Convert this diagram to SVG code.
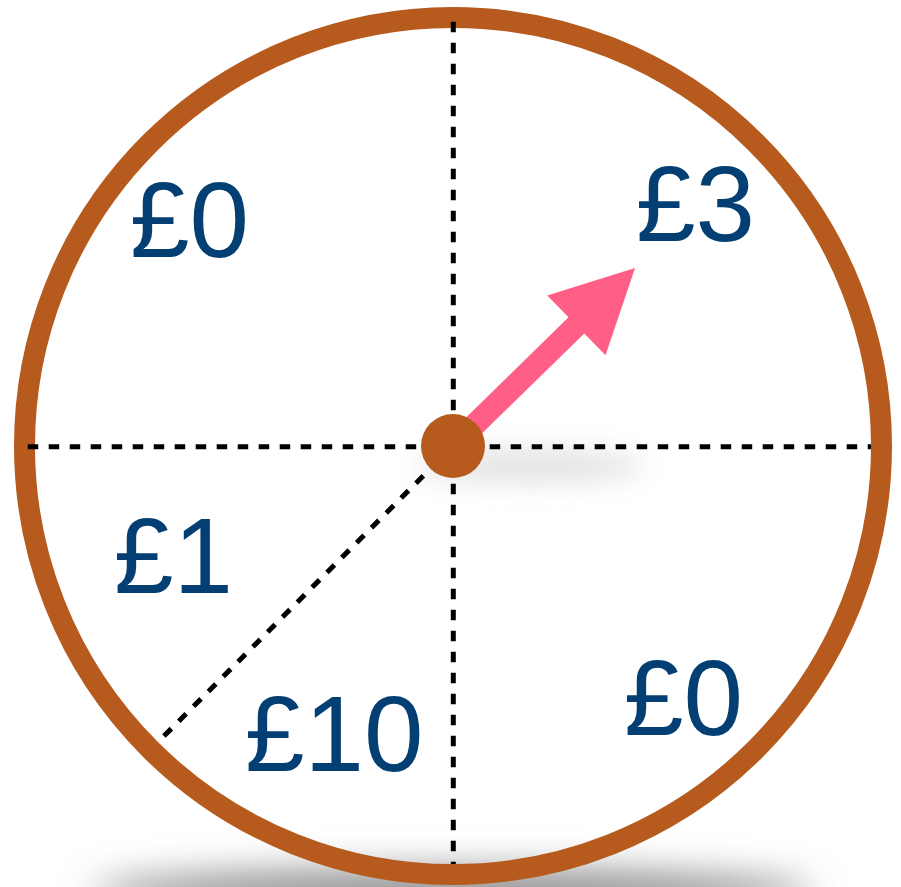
<svg xmlns="http://www.w3.org/2000/svg" width="901" height="887" viewBox="0 0 901 887">
  <defs>
    <style>
      .lbl { font-family: "Liberation Sans", Arial, sans-serif; font-size: 107px; fill: #033F72; }
      .dash { stroke: #000; stroke-width: 5; stroke-dasharray: 10.5 10.5; fill: none; }
    </style>
    <filter id="blurBig" x="-30%" y="-300%" width="160%" height="700%">
      <feGaussianBlur stdDeviation="18"/>
    </filter>
    <filter id="blurSmall" x="-60%" y="-300%" width="220%" height="700%">
      <feGaussianBlur stdDeviation="14"/>
    </filter>
  </defs>
  <rect width="901" height="887" fill="#fff"/>
  <g id="shadows">
    <ellipse cx="453" cy="892" rx="360" ry="22" fill="#8a8a8a" filter="url(#blurBig)"/>
    <ellipse cx="530" cy="466" rx="115" ry="16" fill="#d4d4d4" opacity="0.7" filter="url(#blurSmall)"/>
  </g>
  <g id="wheel">
    <circle cx="453" cy="446" r="428.5" fill="none" stroke="#B65B1D" stroke-width="21"/>
  </g>
  <g id="connectors">
    <line class="dash" x1="453.3" y1="21.7" x2="453.3" y2="864"/>
    <line class="dash" x1="27.7" y1="446.7" x2="871" y2="446.7"/>
    <line class="dash" x1="453" y1="446" x2="161" y2="739"/>
  </g>
  <g id="pointer">
    <polygon transform="translate(453 446) rotate(-44.36)" fill="#FF5F86" points="0,-11.3 172.6,-11.3 172.6,-41.7 254.6,0 172.6,41.7 172.6,11.3 0,11.3"/>
  </g>
  <g id="hub">
    <circle cx="453" cy="446" r="32" fill="#B65B1D"/>
  </g>
  <g id="label-top-left"><text class="lbl" x="130" y="257">£0</text></g>
  <g id="label-top-right"><text class="lbl" x="636" y="241">£3</text></g>
  <g id="label-left"><text class="lbl" x="114" y="593">£1</text></g>
  <g id="label-bottom"><text class="lbl" x="245" y="771">£10</text></g>
  <g id="label-bottom-right"><text class="lbl" x="624" y="735">£0</text></g>
</svg>
